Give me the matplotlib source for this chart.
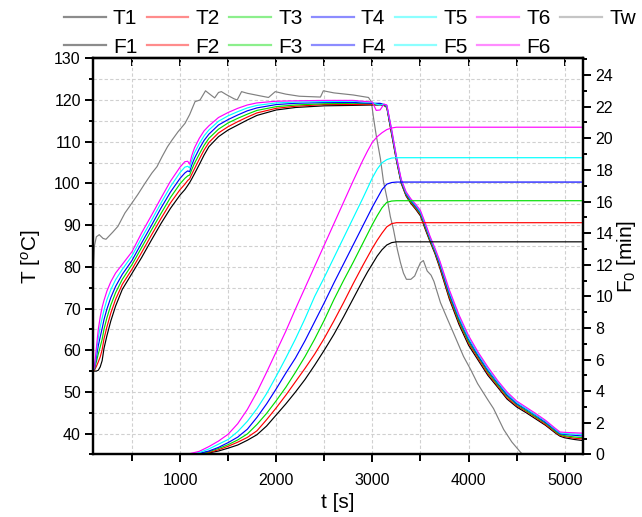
import matplotlib
matplotlib.use("Agg")
import matplotlib.pyplot as plt
from matplotlib.lines import Line2D
from matplotlib.ticker import MultipleLocator

plt.rcParams['font.family'] = ['Liberation Sans', 'DejaVu Sans']
plt.rcParams['mathtext.fontset'] = 'custom'
plt.rcParams['mathtext.rm'] = 'Liberation Sans'
plt.rcParams['mathtext.it'] = 'Liberation Sans:italic'

# ---------------- data ----------------
t_T = [98, 110, 130, 150, 170, 190, 210, 240, 280, 330,
       400, 500, 600, 700, 800, 900, 1000, 1050, 1080, 1100,
       1120, 1150, 1200, 1250, 1300, 1400, 1500, 1600, 1700, 1800,
       2000, 2200, 2500, 2800, 3000, 3040, 3080, 3120, 3150, 3200,
       3250, 3300, 3350, 3400, 3450, 3500, 3550, 3600, 3650, 3700,
       3800, 3900, 4000, 4100, 4200, 4300, 4400, 4500, 4600, 4700,
       4800, 4900, 4950, 5000, 5100, 5200]

T1 = [55.0, 55.0, 55.0, 55.2, 56.0, 57.5, 60.5, 63.5, 67.0, 70.6,
      74.6, 78.4, 82.2, 86.3, 90.3, 94.0, 97.2, 98.5, 99.5, 100.2,
      101.0, 102.3, 104.5, 106.8, 108.8, 111.2, 112.8, 114.0, 115.2, 116.3,
      117.6, 118.2, 118.6, 118.7, 118.8, 118.8, 118.8, 118.7, 118.2, 111.8,
      105.5, 100.0, 97.0, 95.2, 93.8, 92.2, 89.0, 86.0, 83.2, 79.8,
      72.3, 66.2, 61.2, 57.6, 54.0, 51.2, 48.3, 46.4, 45.0, 43.5,
      42.0, 40.2, 39.4, 39.0, 38.6, 38.3]

T2 = [55.0, 55.2, 56.1, 57.2, 58.4, 60.1, 62.8, 65.6, 68.9, 72.2,
      75.8, 79.4, 83.4, 87.5, 91.5, 95.3, 98.5, 99.8, 100.7, 101.1,
      102.1, 103.5, 105.8, 108.0, 109.8, 112.1, 113.6, 114.8, 115.9, 116.9,
      118.0, 118.5, 118.9, 118.9, 118.9, 118.9, 118.9, 118.8, 118.3, 112.0,
      105.7, 100.2, 97.2, 95.4, 94.0, 92.5, 89.3, 86.3, 83.5, 80.1,
      72.7, 66.7, 61.7, 58.0, 54.4, 51.5, 48.6, 46.7, 45.3, 43.8,
      42.2, 40.4, 39.6, 39.3, 38.9, 38.7]

T3 = [55.1, 55.4, 57.2, 59.1, 60.8, 62.6, 65.1, 67.8, 70.8, 73.8,
      77.0, 80.5, 84.6, 88.7, 92.7, 96.6, 99.9, 101.2, 101.8, 102.0,
      103.2, 104.8, 107.0, 109.1, 110.8, 113.0, 114.5, 115.6, 116.6, 117.5,
      118.4, 118.8, 119.1, 119.2, 119.1, 119.1, 119.1, 118.8, 118.4, 112.3,
      105.9, 100.4, 97.4, 95.6, 94.3, 92.7, 89.6, 86.5, 83.7, 80.5,
      73.2, 67.1, 62.1, 58.4, 54.8, 51.8, 49.0, 47.0, 45.5, 44.0,
      42.5, 40.6, 39.8, 39.5, 39.2, 39.0]

T4 = [55.1, 55.6, 58.3, 61.1, 63.2, 65.2, 67.4, 69.9, 72.6, 75.3,
      78.2, 81.5, 85.7, 89.8, 94.0, 97.9, 101.2, 102.5, 103.0, 102.8,
      104.3, 106.0, 108.3, 110.3, 111.8, 114.0, 115.3, 116.4, 117.4, 118.1,
      118.9, 119.2, 119.4, 119.4, 119.2, 119.2, 119.2, 118.9, 118.6, 112.5,
      106.1, 100.6, 97.6, 95.9, 94.5, 93.0, 89.9, 86.8, 84.0, 80.8,
      73.6, 67.6, 62.6, 58.7, 55.2, 52.2, 49.3, 47.2, 45.8, 44.3,
      42.7, 40.9, 40.0, 39.8, 39.6, 39.4]

T5 = [55.2, 55.8, 59.4, 63.0, 65.6, 67.7, 69.7, 72.1, 74.5, 76.9,
      79.4, 82.6, 86.9, 91.0, 95.2, 99.2, 102.6, 103.9, 104.1, 103.7,
      105.4, 107.3, 109.5, 111.4, 112.8, 114.9, 116.2, 117.2, 118.1, 118.7,
      119.3, 119.5, 119.6, 119.7, 119.4, 119.0, 118.8, 119.0, 118.7, 112.8,
      106.3, 100.8, 97.8, 96.1, 94.8, 93.2, 90.2, 87.0, 84.2, 81.2,
      74.1, 68.0, 63.0, 59.1, 55.6, 52.5, 49.7, 47.5, 46.0, 44.5,
      43.0, 41.1, 40.2, 40.0, 39.9, 39.8]

T6 = [55.2, 56.0, 60.5, 65.0, 68.0, 70.3, 72.0, 74.2, 76.4, 78.5,
      80.6, 83.6, 88.1, 92.2, 96.4, 100.5, 103.9, 105.2, 105.3, 104.6,
      106.5, 108.5, 110.8, 112.6, 113.8, 115.8, 117.0, 118.0, 118.8, 119.3,
      119.7, 119.8, 119.9, 119.9, 119.5, 117.5, 117.6, 119.0, 118.8, 113.0,
      106.5, 101.0, 98.0, 96.3, 95.0, 93.5, 90.5, 87.3, 84.5, 81.5,
      74.5, 68.5, 63.5, 59.5, 56.0, 52.8, 50.0, 47.8, 46.3, 44.8,
      43.2, 41.3, 40.4, 40.3, 40.2, 40.1]

t_W = [98, 100, 110, 130, 160, 200, 230, 300, 354, 427,
       470, 500, 560, 635, 708, 760, 813, 870, 917, 980,
       1052, 1100, 1156, 1208, 1265, 1320, 1360, 1400, 1430, 1480,
       1560, 1594, 1640, 1700, 1830, 1920, 1990, 2100, 2240, 2460,
       2490, 2600, 2800, 2906, 2960, 2990, 3010, 3040, 3083, 3115,
       3156, 3187, 3219, 3260, 3292, 3323, 3354, 3400, 3440, 3469,
       3500, 3530, 3570, 3610, 3640, 3708, 3780, 3844, 3948, 4021,
       4094, 4198, 4260, 4365, 4450, 4542, 4580]
Tw = [70.0, 80.0, 85.0, 87.2, 87.7, 86.8, 86.6, 88.3, 89.7, 92.9,
      94.3, 95.3, 97.3, 100.0, 102.5, 104.0, 106.4, 108.8, 110.4, 112.4,
      114.4, 116.5, 119.6, 120.0, 122.2, 121.2, 120.5, 121.8, 122.0, 121.3,
      120.3, 120.0, 122.0, 121.6, 121.0, 120.6, 122.0, 121.4, 120.9, 120.7,
      122.2, 121.7, 121.2, 120.8, 120.6, 119.5, 116.0, 111.5, 106.0, 100.5,
      96.0, 92.0, 89.0, 84.1, 81.0, 78.5, 77.0, 77.0, 77.8, 79.4,
      81.0, 81.5, 79.0, 78.0, 76.5, 71.4, 67.5, 64.1, 58.5, 55.4,
      52.0, 48.2, 46.0, 41.0, 38.0, 35.5, 34.5]

t_F = [98, 1000, 1100, 1200, 1300, 1400, 1500, 1600, 1700, 1800,
       1900, 2000, 2100, 2200, 2300, 2400, 2500, 2600, 2700, 2800,
       2900, 2950, 3000, 3050, 3100, 3150, 3200, 3250, 5200]
F1 = [0, 0, 0, 0.03, 0.1, 0.22, 0.4, 0.6, 0.9, 1.25,
      1.8, 2.5, 3.2, 3.95, 4.75, 5.65, 6.6, 7.6, 8.7, 9.85,
      11.0, 11.55, 12.05, 12.55, 12.95, 13.25, 13.4, 13.45, 13.45]
F2 = [0, 0, 0, 0.04, 0.13, 0.3, 0.52, 0.78, 1.08, 1.5,
      2.2, 2.95, 3.75, 4.6, 5.45, 6.35, 7.35, 8.45, 9.6, 10.8,
      11.95, 12.5, 13.05, 13.55, 14.0, 14.4, 14.6, 14.66, 14.66]
F3 = [0, 0, 0, 0.05, 0.18, 0.38, 0.62, 0.92, 1.3, 1.9,
      2.6, 3.4, 4.25, 5.2, 6.2, 7.3, 8.5, 9.8, 11.0, 12.15,
      13.35, 13.95, 14.55, 15.1, 15.6, 15.95, 16.03, 16.05, 16.05]
F4 = [0, 0, 0.01, 0.07, 0.22, 0.45, 0.75, 1.1, 1.6, 2.35,
      3.2, 4.15, 5.15, 6.1, 7.2, 8.4, 9.6, 10.85, 12.05, 13.25,
      14.45, 15.05, 15.65, 16.2, 16.75, 17.1, 17.2, 17.23, 17.23]
F5 = [0, 0, 0.02, 0.12, 0.35, 0.65, 0.95, 1.45, 2.1, 2.9,
      3.85, 4.95, 6.1, 7.3, 8.6, 10.0, 11.2, 12.45, 13.7, 14.95,
      16.2, 16.85, 17.5, 18.05, 18.45, 18.65, 18.75, 18.77, 18.77]
F6 = [0, 0, 0.05, 0.2, 0.5, 0.85, 1.28, 1.95, 2.85, 3.95,
      5.2, 6.5, 7.8, 9.2, 10.55, 11.9, 13.25, 14.6, 15.95, 17.3,
      18.6, 19.2, 19.75, 20.1, 20.35, 20.55, 20.65, 20.7, 20.7]

T_labels = ['T1', 'T2', 'T3', 'T4', 'T5', 'T6']
F_labels = ['F1', 'F2', 'F3', 'F4', 'F5', 'F6']
colors = ['#000000', '#ff0000', '#00dd00', '#0000ff', '#00ffff', '#ff00ff']
tw_color = '#808080'

# ---------------- figure ----------------
fig = plt.figure(figsize=(6.42, 5.17), dpi=100)
ax = fig.add_axes([0.1453, 0.1209, 0.7628, 0.7664])
ax2 = ax.twinx()

lw = 0.85
ax.plot(t_W, Tw, color=tw_color, lw=lw)
for ser, c in zip([T1, T2, T3, T4, T5, T6], colors):
    ax.plot(t_T, ser, color=c, lw=lw)
for ser, c in zip([F1, F2, F3, F4, F5, F6], colors):
    ax2.plot(t_F, ser, color=c, lw=lw)

ax.set_xlim(98, 5190)
ax.set_ylim(35, 130)
ax2.set_ylim(0, 25.06)

ax.xaxis.set_major_locator(MultipleLocator(1000))
ax.xaxis.set_minor_locator(MultipleLocator(500))
ax.yaxis.set_major_locator(MultipleLocator(10))
ax.yaxis.set_minor_locator(MultipleLocator(5))
ax2.yaxis.set_major_locator(MultipleLocator(2))
ax2.yaxis.set_minor_locator(MultipleLocator(1))

ax.grid(True, which='both', color='#d0d0d0', linestyle=(0, (3, 2)), linewidth=0.8)
ax.set_axisbelow(True)

for a in (ax, ax2):
    for s in a.spines.values():
        s.set_linewidth(1.6)

ax.tick_params(axis='x', which='major', direction='out', length=6, width=1.4,
               labelsize=11.5, pad=7, top=False)
ax.tick_params(axis='x', which='minor', direction='out', length=5, width=1.4, top=False)
ax.tick_params(axis='y', which='major', direction='out', length=6, width=1.4,
               labelsize=11.5, pad=3)
ax.tick_params(axis='y', which='minor', direction='out', length=3, width=1.4)
ax2.tick_params(axis='y', which='major', direction='out', length=6, width=1.4,
                labelsize=11.5, pad=3)
ax2.tick_params(axis='y', which='minor', direction='out', length=3, width=1.4)

# top inward ticks
secx = ax.secondary_xaxis('top')
secx.xaxis.set_major_locator(MultipleLocator(500))
secx.tick_params(axis='x', direction='in', length=6, width=1.4, labeltop=False)
secx.spines['top'].set_linewidth(1.6)

ax.set_xlabel('t [s]', fontsize=15, labelpad=4)
ax.set_ylabel('T [$^{o}$C]', fontsize=15, labelpad=8)
ax2.set_ylabel('F$_{0}$ [min]', fontsize=15, labelpad=1)

# legend
handles = []
labels = []
for i in range(6):
    handles.append(Line2D([], [], color=colors[i], lw=1.6, alpha=0.45))
    labels.append(T_labels[i])
    handles.append(Line2D([], [], color=colors[i], lw=1.6, alpha=0.45))
    labels.append(F_labels[i])
handles.append(Line2D([], [], color=tw_color, lw=1.6, alpha=0.45))
labels.append('Tw')
fig.legend(handles, labels, ncol=7, loc='upper center', bbox_to_anchor=(0.545, 1.01),
           frameon=False, fontsize=15, handlelength=2.0, handletextpad=0.35,
           columnspacing=0.45, labelspacing=0.45, borderpad=0.2)

fig.savefig('out.png', dpi=100)
